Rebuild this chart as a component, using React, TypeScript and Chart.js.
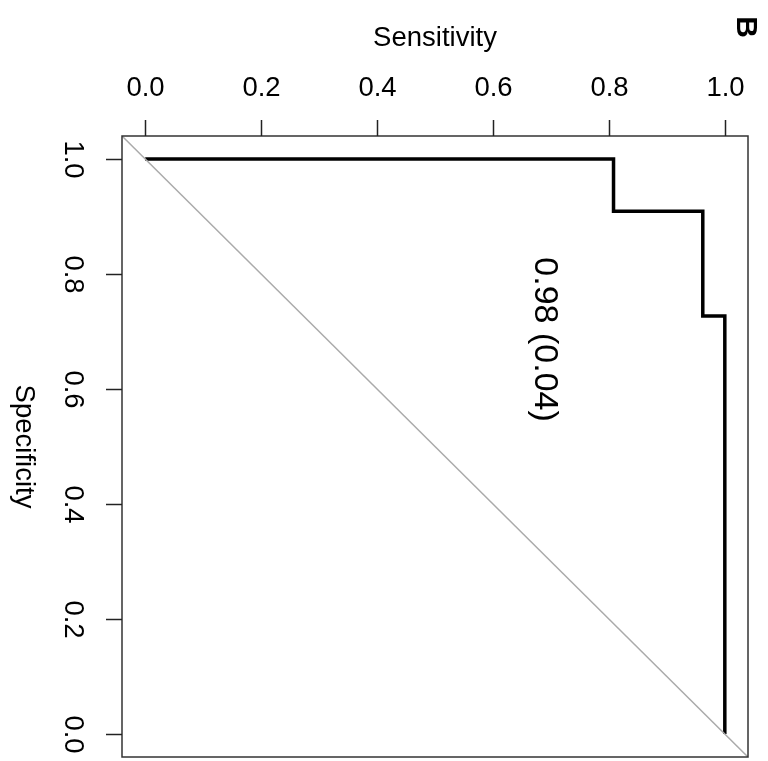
import React, { useEffect, useRef } from "react";
import { Chart, registerables } from "chart.js";

Chart.register(...registerables);

// ROC curve (sensitivity vs specificity), drawn as in the rotated reference
const sensitivity = [0, 0.808, 0.808, 0.962, 0.962, 1.0, 1.0];
const specificity = [1.0, 1.0, 0.909, 0.909, 0.727, 0.727, 0.0];
const diagonalX = [-0.04, 1.04];
const diagonalY = [1.04, -0.04];
const xTicks = [0, 0.2, 0.4, 0.6, 0.8, 1.0];
const yTicks = [0, 0.2, 0.4, 0.6, 0.8, 1.0];
const xTitle = "Sensitivity";
const yTitle = "Specificity";
const aucLabel = "0.98 (0.04)";
const aucPos = [0.689, 0.686];
const panelLabel = "B";

const FONT = "'Liberation Sans', Arial, Helvetica, sans-serif";

const decorPlugin = {
  id: "decor",
  afterDraw(chart: any) {
    const { ctx, chartArea: a, scales } = chart;
    const xs = scales.x;
    const ys = scales.y;
    ctx.save();
    // box
    ctx.strokeStyle = "#333";
    ctx.lineWidth = 1.5;
    ctx.strokeRect(a.left, a.top, a.right - a.left, a.bottom - a.top);
    // top ticks
    ctx.strokeStyle = "#222";
    ctx.lineWidth = 1.5;
    ctx.fillStyle = "#000";
    ctx.font = `27.5px ${FONT}`;
    ctx.textAlign = "center";
    ctx.textBaseline = "middle";
    xTicks.forEach((v) => {
      const px = Math.round(xs.getPixelForValue(v)) + 0.5;
      ctx.beginPath();
      ctx.moveTo(px, a.top);
      ctx.lineTo(px, a.top - 16);
      ctx.stroke();
      ctx.fillText(v.toFixed(1), px, 88);
    });
    // left ticks (labels rotated clockwise)
    yTicks.forEach((v) => {
      const py = Math.round(ys.getPixelForValue(v)) + 0.5;
      ctx.beginPath();
      ctx.moveTo(a.left, py);
      ctx.lineTo(a.left - 16, py);
      ctx.stroke();
      ctx.save();
      ctx.translate(73, py);
      ctx.rotate(Math.PI / 2);
      ctx.fillText(v.toFixed(1), 0, 0);
      ctx.restore();
    });
    // titles
    ctx.fillText(xTitle, xs.getPixelForValue(0.5), 38);
    ctx.save();
    ctx.translate(24, ys.getPixelForValue(0.5));
    ctx.rotate(Math.PI / 2);
    ctx.fillText(yTitle, 0, 0);
    ctx.restore();
    // AUC annotation
    ctx.save();
    ctx.font = `34px ${FONT}`;
    ctx.translate(xs.getPixelForValue(aucPos[0]), ys.getPixelForValue(aucPos[1]));
    ctx.rotate(Math.PI / 2);
    ctx.fillText(aucLabel, 0, 0);
    ctx.restore();
    // panel label
    ctx.save();
    ctx.font = `bold 30px ${FONT}`;
    ctx.translate(745, 27);
    ctx.rotate(Math.PI / 2);
    ctx.fillText(panelLabel, 0, 0);
    ctx.restore();
    ctx.restore();
  },
};

export default function App() {
  const ref = useRef<HTMLCanvasElement>(null);
  useEffect(() => {
    const canvas = ref.current!;
    const chart = new Chart(canvas, {
      type: "scatter",
      data: {
        datasets: [
          {
            data: diagonalX.map((x, i) => ({ x, y: diagonalY[i] })),
            showLine: true,
            borderColor: "#aaaaaa",
            borderWidth: 1.5,
            pointRadius: 0,
          },
          {
            data: sensitivity.map((x, i) => ({ x, y: specificity[i] })),
            showLine: true,
            borderColor: "#000000",
            borderWidth: 3.5,
            pointRadius: 0,
            borderCapStyle: "butt",
            borderJoinStyle: "miter",
          },
        ],
      },
      options: {
        responsive: false,
        animation: false,
        layout: { padding: { top: 0, left: 0, right: 20, bottom: 4 } },
        plugins: { legend: { display: false }, tooltip: { enabled: false } },
        scales: {
          x: {
            type: "linear",
            position: "top",
            min: -0.04,
            max: 1.04,
            grid: { display: false },
            border: { display: false },
            ticks: { display: false },
            afterFit: (s: any) => {
              s.height = 136;
            },
          },
          y: {
            type: "linear",
            position: "left",
            min: -0.04,
            max: 1.04,
            grid: { display: false },
            border: { display: false },
            ticks: { display: false },
            afterFit: (s: any) => {
              s.width = 122;
            },
          },
        },
      },
      plugins: [decorPlugin],
    } as any);
    return () => chart.destroy();
  }, []);
  return (
    <div style={{ position: "fixed", left: 0, top: 0, width: 768, height: 761, background: "#fff" }}>
      <canvas ref={ref} width={768} height={761} style={{ display: "block" }} />
    </div>
  );
}
